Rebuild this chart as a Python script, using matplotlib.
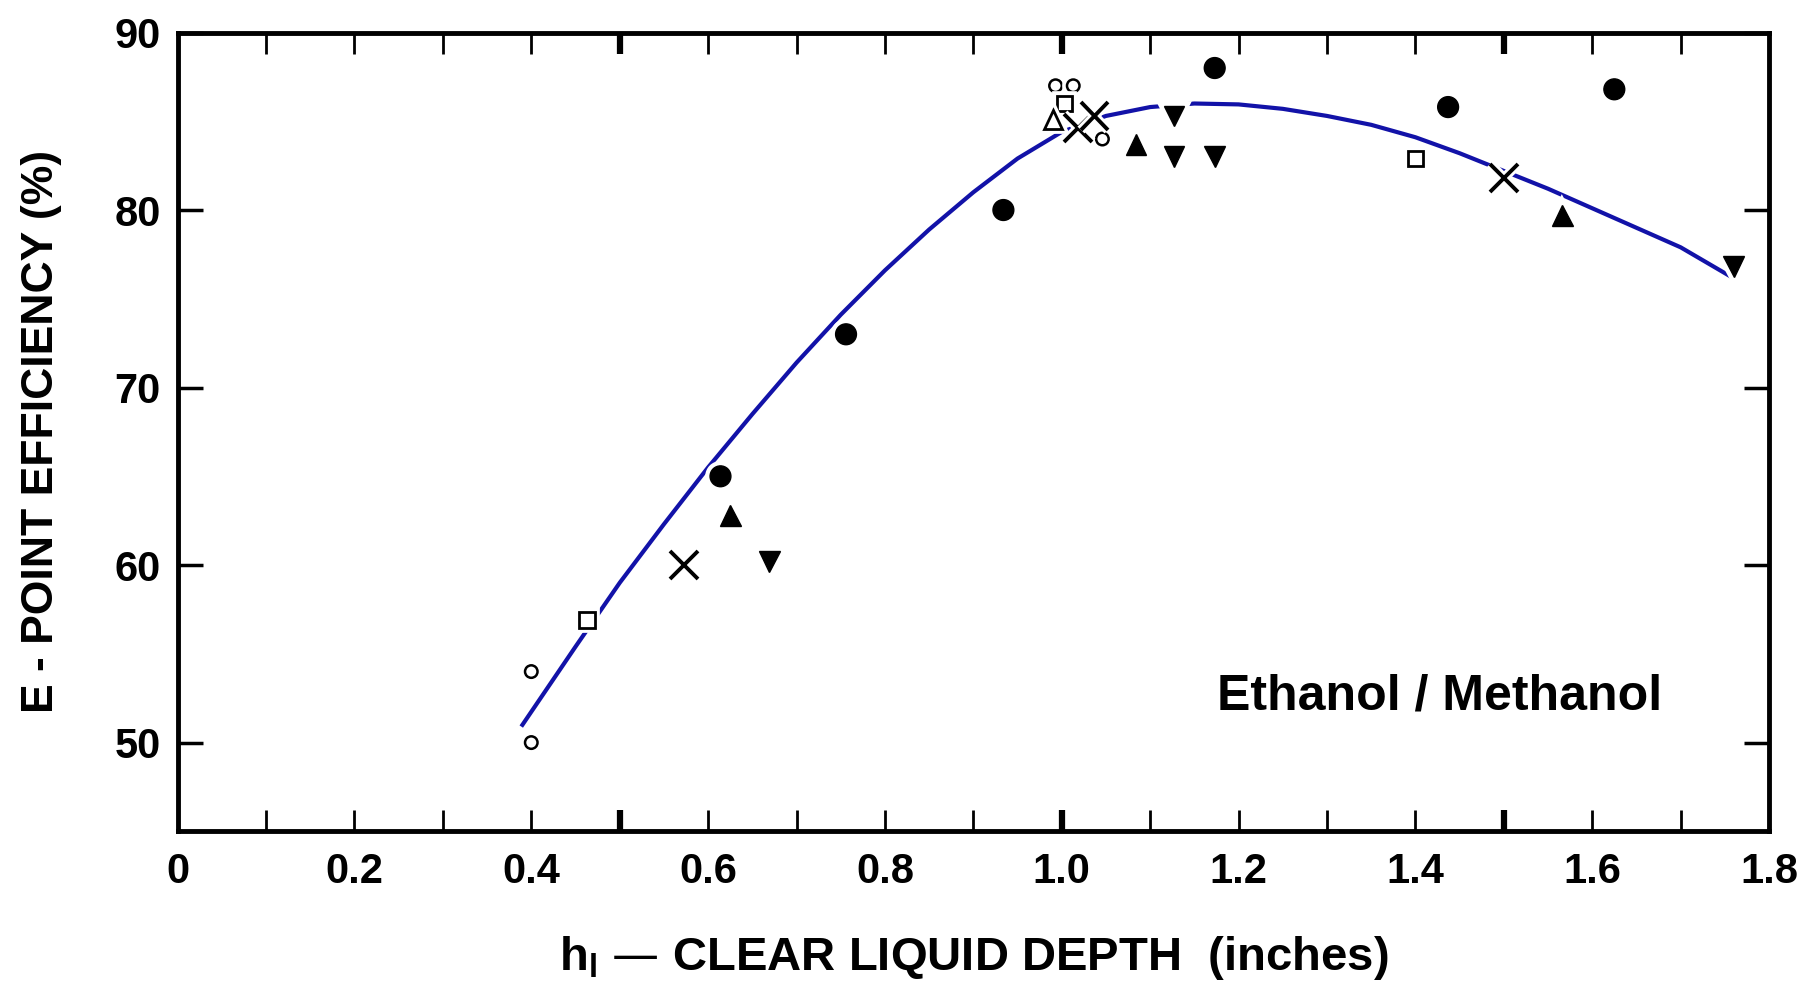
import matplotlib.pyplot as plt
import matplotlib.patheffects as pe

# Data (Ethanol / Methanol point efficiency)
filled_circle_x = [0.614, 0.756, 0.934, 1.173, 1.437, 1.625]
filled_circle_y = [65.0, 73.0, 80.0, 88.0, 85.8, 86.8]
up_tri_x = [0.625, 1.084, 1.566]
up_tri_y = [62.8, 83.7, 79.7]
down_tri_x = [0.669, 1.127, 1.127, 1.173, 1.760]
down_tri_y = [60.2, 85.3, 83.0, 83.0, 76.8]
open_circle_x = [0.40, 0.40, 0.993, 1.013, 1.046]
open_circle_y = [54.0, 50.0, 87.0, 87.0, 84.0]
open_square_x = [0.463, 1.003, 1.40]
open_square_y = [56.9, 86.0, 82.9]
open_tri_x = [0.99]
open_tri_y = [85.1]
cross_x = [0.573, 1.018, 1.037, 1.50]
cross_y = [60.0, 84.6, 85.3, 81.8]

# fitted curve
curve_x = [0.39, 0.42, 0.45, 0.475, 0.5, 0.55, 0.6, 0.65, 0.7, 0.75, 0.8, 0.85, 0.9, 0.95,
           1.0, 1.05, 1.1, 1.15, 1.2, 1.25, 1.3, 1.35, 1.4, 1.45, 1.5, 1.55, 1.6, 1.65, 1.7, 1.755]
curve_y = [51.0, 53.2, 55.4, 57.2, 59.0, 62.3, 65.5, 68.5, 71.4, 74.1, 76.6, 78.9, 81.0, 82.9,
           84.4, 85.3, 85.8, 86.0, 85.95, 85.7, 85.3, 84.8, 84.1, 83.2, 82.2, 81.2, 80.1, 79.0, 77.9, 76.3]

xtick_vals = [0, 0.1, 0.2, 0.3, 0.4, 0.5, 0.6, 0.7, 0.8, 0.9, 1.0, 1.1, 1.2, 1.3, 1.4, 1.5, 1.6, 1.7, 1.8]
xtick_text = ['0', '', '0.2', '', '0.4', '', '0.6', '', '0.8', '', '1.0', '', '1.2', '', '1.4', '', '1.6', '', '1.8']
ytick_vals = [50, 60, 70, 80, 90]

plt.rcParams['font.family'] = ['Liberation Sans', 'DejaVu Sans']

fig = plt.figure(figsize=(18.2, 9.85), dpi=100)
ax = fig.add_axes([0.0976, 0.156, 0.8744, 0.811])

ax.plot(curve_x, curve_y, color='#1212a8', linewidth=3, zorder=2)

halo = [pe.withStroke(linewidth=7, foreground='white')]
kw = dict(linestyle='none', zorder=3, path_effects=halo)
ax.plot(filled_circle_x, filled_circle_y, marker='o', ms=15, color='black', **kw)
ax.plot(up_tri_x, up_tri_y, marker='^', ms=15, color='black', **kw)
ax.plot(down_tri_x, down_tri_y, marker='v', ms=15, color='black', **kw)
ax.plot(open_circle_x, open_circle_y, marker='o', ms=9, mfc='white', mec='black', mew=1.8, **kw)
ax.plot(open_square_x, open_square_y, marker='s', ms=11, mfc='white', mec='black', mew=2, **kw)
ax.plot(open_tri_x, open_tri_y, marker='^', ms=13, mfc='white', mec='black', mew=2, **kw)
ax.plot(cross_x, cross_y, marker='x', ms=20, color='black', mew=2.8, **kw)

ax.set_xlim(0, 1.8)
ax.set_ylim(45, 90)
ax.set_xticks(xtick_vals)
ax.set_xticklabels(xtick_text)
ax.set_yticks(ytick_vals)
ax.tick_params(axis='x', direction='in', length=15, width=2, top=True, pad=15, labelsize=30)
ax.tick_params(axis='y', direction='in', length=18, width=2.5, right=True, pad=12, labelsize=30)
for lab in ax.get_xticklabels() + ax.get_yticklabels():
    lab.set_fontweight('bold')

# heavier ticks at 0.5, 1.0 and 1.5
for i, t in enumerate(ax.xaxis.get_major_ticks()):
    if xtick_vals[i] in (0.5, 1.0, 1.5):
        t.tick1line.set_markeredgewidth(4.5)
        t.tick2line.set_markeredgewidth(4.5)

for s in ax.spines.values():
    s.set_linewidth(3.5)

ax.set_xlabel('h$_\\mathregular{l}$ \u2014 CLEAR LIQUID DEPTH  (inches)', fontsize=34, fontweight='bold', labelpad=30)
ax.set_ylabel('E - POINT EFFICIENCY (%)', fontsize=32, fontweight='bold', labelpad=38)

ax.text(1.427, 52.6, 'Ethanol / Methanol', fontsize=36, fontweight='bold', ha='center', va='center')

plt.savefig('out.png', dpi=100)
